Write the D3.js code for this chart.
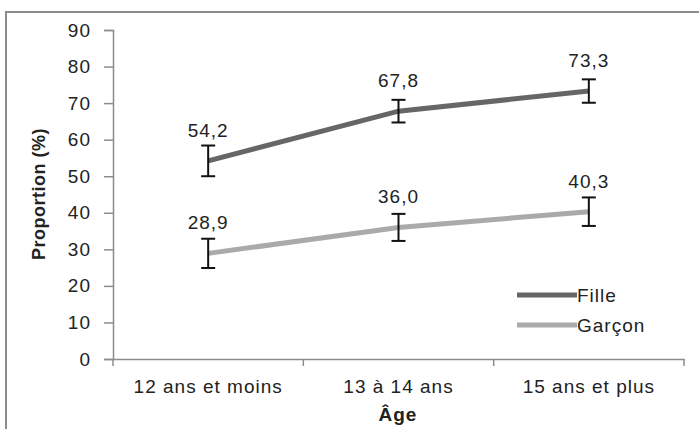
<!DOCTYPE html>
<html>
<head>
<meta charset="utf-8">
<script src="https://cdn.jsdelivr.net/npm/d3@7"></script>
<style>
    body { margin: 0; background: #fff; }
    svg { display: block; font-family: "Liberation Sans", Arial, sans-serif; }
    text { fill: #222; }
</style>
</head>
<body>
<svg class="main" width="699" height="429"></svg>
<script>
var categories = ["12 ans et moins", "13 à 14 ans", "15 ans et plus"],
    seriesNames = ["Fille", "Garçon"],
    filleValues = [54.2, 67.8, 73.3],
    filleErrors = [4.2, 3.1, 3.2],
    garconValues = [28.9, 36.0, 40.3],
    garconErrors = [4.0, 3.7, 3.9],
    yTicks = [0, 10, 20, 30, 40, 50, 60, 70, 80, 90];

var svg = d3.select(".main"),
    colors = ["#666666", "#aaaaaa"],
    axisColor = "#8c8c8c",
    fontSize = 19;

var series = [
    { name: seriesNames[0], values: filleValues, errors: filleErrors, color: colors[0] },
    { name: seriesNames[1], values: garconValues, errors: garconErrors, color: colors[1] }
];

// outer frame, runs off the right and bottom edge
svg.append("rect")
    .attr("x", 6)
    .attr("y", 12)
    .attr("width", 720)
    .attr("height", 440)
    .attr("fill", "none")
    .attr("stroke", axisColor)
    .attr("stroke-width", 2);

var x = d3.scaleBand().domain(categories).range([113, 684]),
    y = d3.scaleLinear().domain([0, 90]).range([359, 30]);

function cx(c) {
    return x(c) + x.bandwidth() / 2;
}

/**
 * Axes
 */
var yAxis = svg.append("g")
    .attr("transform", "translate(113,0)")
    .call(d3.axisLeft(y).tickValues(yTicks).tickSize(9).tickPadding(13));

var xAxis = svg.append("g")
    .attr("transform", "translate(0,359)")
    .call(d3.axisBottom(x).tickSize(0).tickPadding(21));

// category separators instead of centred ticks
xAxis.selectAll(".sep")
    .data([0, 1, 2, 3])
    .enter()
    .append("line")
    .attr("x1", function(d) { return 113 + d * x.bandwidth(); })
    .attr("x2", function(d) { return 113 + d * x.bandwidth(); })
    .attr("y1", 0)
    .attr("y2", 7);

[yAxis, xAxis].forEach(function(g) {
    g.select(".domain").attr("stroke", axisColor).attr("stroke-width", 1.5);
    g.selectAll("line").attr("stroke", axisColor).attr("stroke-width", 1.5);
    g.selectAll("text")
        .attr("font-family", "Liberation Sans, Arial, sans-serif")
        .attr("font-size", fontSize)
        .attr("letter-spacing", 1)
        .attr("fill", "#222");
});

svg.append("text")
    .attr("transform", "translate(45,194) rotate(-90)")
    .attr("text-anchor", "middle")
    .attr("font-size", fontSize - 1)
    .attr("font-weight", "bold")
    .attr("letter-spacing", 0.5)
    .text("Proportion (%)");

svg.append("text")
    .attr("x", 398)
    .attr("y", 421)
    .attr("text-anchor", "middle")
    .attr("font-size", fontSize)
    .attr("font-weight", "bold")
    .attr("letter-spacing", 1)
    .text("Âge");

/**
 * Lines, error bars, labels
 */
var line = d3.line()
    .x(function(d, i) { return cx(categories[i]); })
    .y(function(d) { return y(d); });

series.forEach(function(s) {
    svg.append("path")
        .attr("d", line(s.values))
        .attr("fill", "none")
        .attr("stroke", s.color)
        .attr("stroke-width", 5);
});

series.forEach(function(s) {
    var g = svg.append("g").attr("stroke", "#111").attr("stroke-width", 2);

    s.values.forEach(function(v, i) {
        var px = cx(categories[i]),
            top = y(v + s.errors[i]),
            bot = y(v - s.errors[i]);

        g.append("line").attr("x1", px).attr("x2", px).attr("y1", top).attr("y2", bot);
        g.append("line").attr("x1", px - 7).attr("x2", px + 7).attr("y1", top).attr("y2", top);
        g.append("line").attr("x1", px - 7).attr("x2", px + 7).attr("y1", bot).attr("y2", bot);
    });

    svg.selectAll(null)
        .data(s.values)
        .enter()
        .append("text")
        .attr("x", function(d, i) { return cx(categories[i]); })
        .attr("y", function(d) { return y(d) - 24; })
        .attr("text-anchor", "middle")
        .attr("font-size", fontSize)
        .attr("letter-spacing", 1)
        .text(function(d) { return d.toFixed(1).replace(".", ","); });
});

/**
 * Legend
 */
var legend = svg.append("g")
    .selectAll("g")
    .data(series)
    .enter()
    .append("g")
    .attr("transform", function(d, i) { return "translate(517," + (295 + i * 30) + ")"; });

legend.append("line")
    .attr("x1", 0)
    .attr("x2", 60)
    .attr("stroke", function(d) { return d.color; })
    .attr("stroke-width", 5);

legend.append("text")
    .attr("x", 60)
    .attr("y", 7)
    .attr("font-size", fontSize)
    .attr("letter-spacing", 1)
    .text(function(d) { return d.name; });
</script>
</body>
</html>
